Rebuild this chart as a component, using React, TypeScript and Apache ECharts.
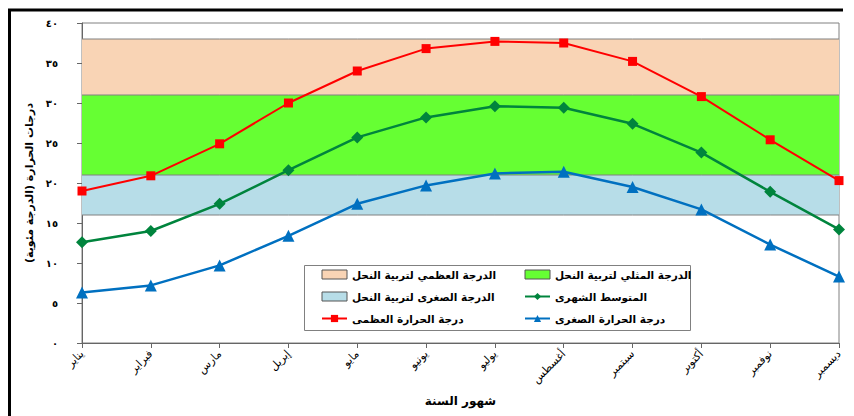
import React, { useEffect, useRef } from "react";
import * as echarts from "echarts";

const months = [
  "يناير", "فبراير", "مارس", "إبريل", "مايو", "يونيو",
  "يوليو", "أغسطس", "سبتمبر", "أكتوبر", "نوفمبر", "ديسمبر",
];

// Monthly temperatures (°C)
const maxTemp = [19.0, 20.9, 24.9, 30.0, 34.0, 36.8, 37.7, 37.5, 35.2, 30.8, 25.4, 20.3];
const meanTemp = [12.6, 14.0, 17.4, 21.6, 25.7, 28.2, 29.6, 29.4, 27.4, 23.8, 18.9, 14.2];
const minTemp = [6.3, 7.2, 9.7, 13.4, 17.4, 19.7, 21.2, 21.4, 19.5, 16.7, 12.3, 8.3];

// Bee-keeping temperature bands: lower edge of low band, then upper edges of low / optimal / high
const bandEdges = [16, 21, 31, 38];

const yTickLabels = ["٠", "٥", "١٠", "١٥", "٢٠", "٢٥", "٣٠", "٣٥", "٤٠"];

const NAMES = {
  high: "الدرجة العظمي لتربية النحل",
  optimal: "الدرجة المثلي لتربية النحل",
  low: "الدرجة الصغرى لتربية النحل",
  mean: "المتوسط الشهرى",
  max: "درجة الحرارة العظمى",
  min: "درجة الحرارة الصغرى",
};

const FONT = "DejaVu Sans";
const COLORS = {
  high: "#F9D4B5",
  optimal: "#66FF33",
  low: "#B7DDE8",
  mean: "#00843D",
  max: "#FF0000",
  min: "#0070C0",
};

// left-to-right mark keeps the anchor of right-aligned Arabic labels on their right edge
const LRM = "\u200E";

const constant = (v: number) => months.map(() => v);

export default function App() {
  const ref = useRef<HTMLDivElement>(null);

  useEffect(() => {
    if (!ref.current) return;
    const chart = echarts.init(ref.current, null, { renderer: "svg" });

    const bandLine = { color: "#808080", width: 1 };
    const bandSeries = (name: string, value: number, color: string | null) => ({
      name,
      type: "line",
      stack: "bands",
      data: constant(value),
      symbol: "none",
      showSymbol: false,
      lineStyle: bandLine,
      itemStyle: { color: color || "#fff" },
      areaStyle: color ? { color, opacity: 1 } : { opacity: 0 },
      z: 1,
      silent: true,
    });

    const legendText = {
      fontFamily: FONT,
      fontWeight: "bold",
      fontSize: 10.5,
      color: "#000",
    };
    const bandIcon = (name: string, color: string) => ({
      name,
      icon: "rect",
      itemStyle: { color, borderColor: "#555", borderWidth: 1 },
    });

    chart.setOption({
      animation: false,
      grid: {
        left: 82,
        right: 15,
        top: 23,
        bottom: 73,
        show: true,
        borderColor: "#808080",
        borderWidth: 1,
        backgroundColor: "transparent",
      },
      graphic: [
        {
          type: "line",
          shape: { x1: 8, y1: 10, x2: 843, y2: 10 },
          style: { stroke: "#000", lineWidth: 3 },
        },
        {
          type: "line",
          shape: { x1: 9.5, y1: 9, x2: 9.5, y2: 416 },
          style: { stroke: "#000", lineWidth: 3 },
        },
        {
          type: "rect",
          shape: { x: 304.5, y: 265.5, width: 386, height: 65 },
          style: { fill: "#fff", stroke: "#808080", lineWidth: 1 },
          z: 10,
        },
      ],
      legend: [
        {
          orient: "vertical",
          left: 316,
          top: 264,
          itemWidth: 25,
          itemHeight: 9,
          itemGap: 11,
          z: 20,
          textStyle: legendText,
          data: [
            bandIcon(NAMES.high, COLORS.high),
            bandIcon(NAMES.low, COLORS.low),
            { name: NAMES.max },
          ],
        },
        {
          orient: "vertical",
          left: 519,
          top: 264,
          itemWidth: 25,
          itemHeight: 9,
          itemGap: 11,
          z: 20,
          textStyle: legendText,
          data: [
            bandIcon(NAMES.optimal, COLORS.optimal),
            { name: NAMES.mean },
            { name: NAMES.min },
          ],
        },
      ],
      xAxis: {
        type: "category",
        data: months,
        boundaryGap: false,
        name: "شهور السنة",
        nameLocation: "middle",
        nameGap: 52,
        nameTextStyle: { fontFamily: FONT, fontWeight: "bold", fontSize: 12, color: "#000" },
        axisLine: { lineStyle: { color: "#666", width: 1 } },
        axisTick: { show: true, length: 5, alignWithLabel: true, lineStyle: { color: "#666" } },
        axisLabel: {
          rotate: 45,
          interval: 0,
          margin: 9,
          fontFamily: FONT,
          fontSize: 11,
          color: "#000",
          formatter: (v: string) => LRM + v + LRM,
        },
        splitLine: { show: false },
      },
      yAxis: {
        type: "value",
        min: 0,
        max: 40,
        interval: 5,
        name: "درجات الحرارة (الدرجة مئوية)",
        nameLocation: "middle",
        nameRotate: 90,
        nameGap: 42,
        nameTextStyle: { fontFamily: FONT, fontWeight: "bold", fontSize: 11, color: "#000" },
        axisLine: { show: true, lineStyle: { color: "#666", width: 1 } },
        axisTick: { show: true, length: 5, lineStyle: { color: "#666" } },
        axisLabel: {
          margin: 24,
          fontFamily: FONT,
          fontWeight: "bold",
          fontSize: 10,
          color: "#000",
          formatter: (v: number) => LRM + (yTickLabels[Math.round(v / 5)] ?? "") + LRM,
        },
        splitLine: { show: false },
      },
      series: [
        bandSeries("base", bandEdges[0], null),
        bandSeries(NAMES.low, bandEdges[1] - bandEdges[0], COLORS.low),
        bandSeries(NAMES.optimal, bandEdges[2] - bandEdges[1], COLORS.optimal),
        bandSeries(NAMES.high, bandEdges[3] - bandEdges[2], COLORS.high),
        {
          name: NAMES.max,
          type: "line",
          data: maxTemp,
          symbol: "rect",
          symbolSize: 9,
          lineStyle: { color: COLORS.max, width: 2 },
          itemStyle: { color: COLORS.max },
          z: 5,
        },
        {
          name: NAMES.mean,
          type: "line",
          data: meanTemp,
          symbol: "diamond",
          symbolSize: 12,
          lineStyle: { color: COLORS.mean, width: 2.5 },
          itemStyle: { color: COLORS.mean },
          z: 5,
        },
        {
          name: NAMES.min,
          type: "line",
          data: minTemp,
          symbol: "triangle",
          symbolSize: 12,
          lineStyle: { color: COLORS.min, width: 2.5 },
          itemStyle: { color: COLORS.min },
          z: 5,
        },
      ],
    });

    return () => chart.dispose();
  }, []);

  return <div ref={ref} style={{ width: 854, height: 416, position: "absolute", left: 0, top: 0 }} />;
}
